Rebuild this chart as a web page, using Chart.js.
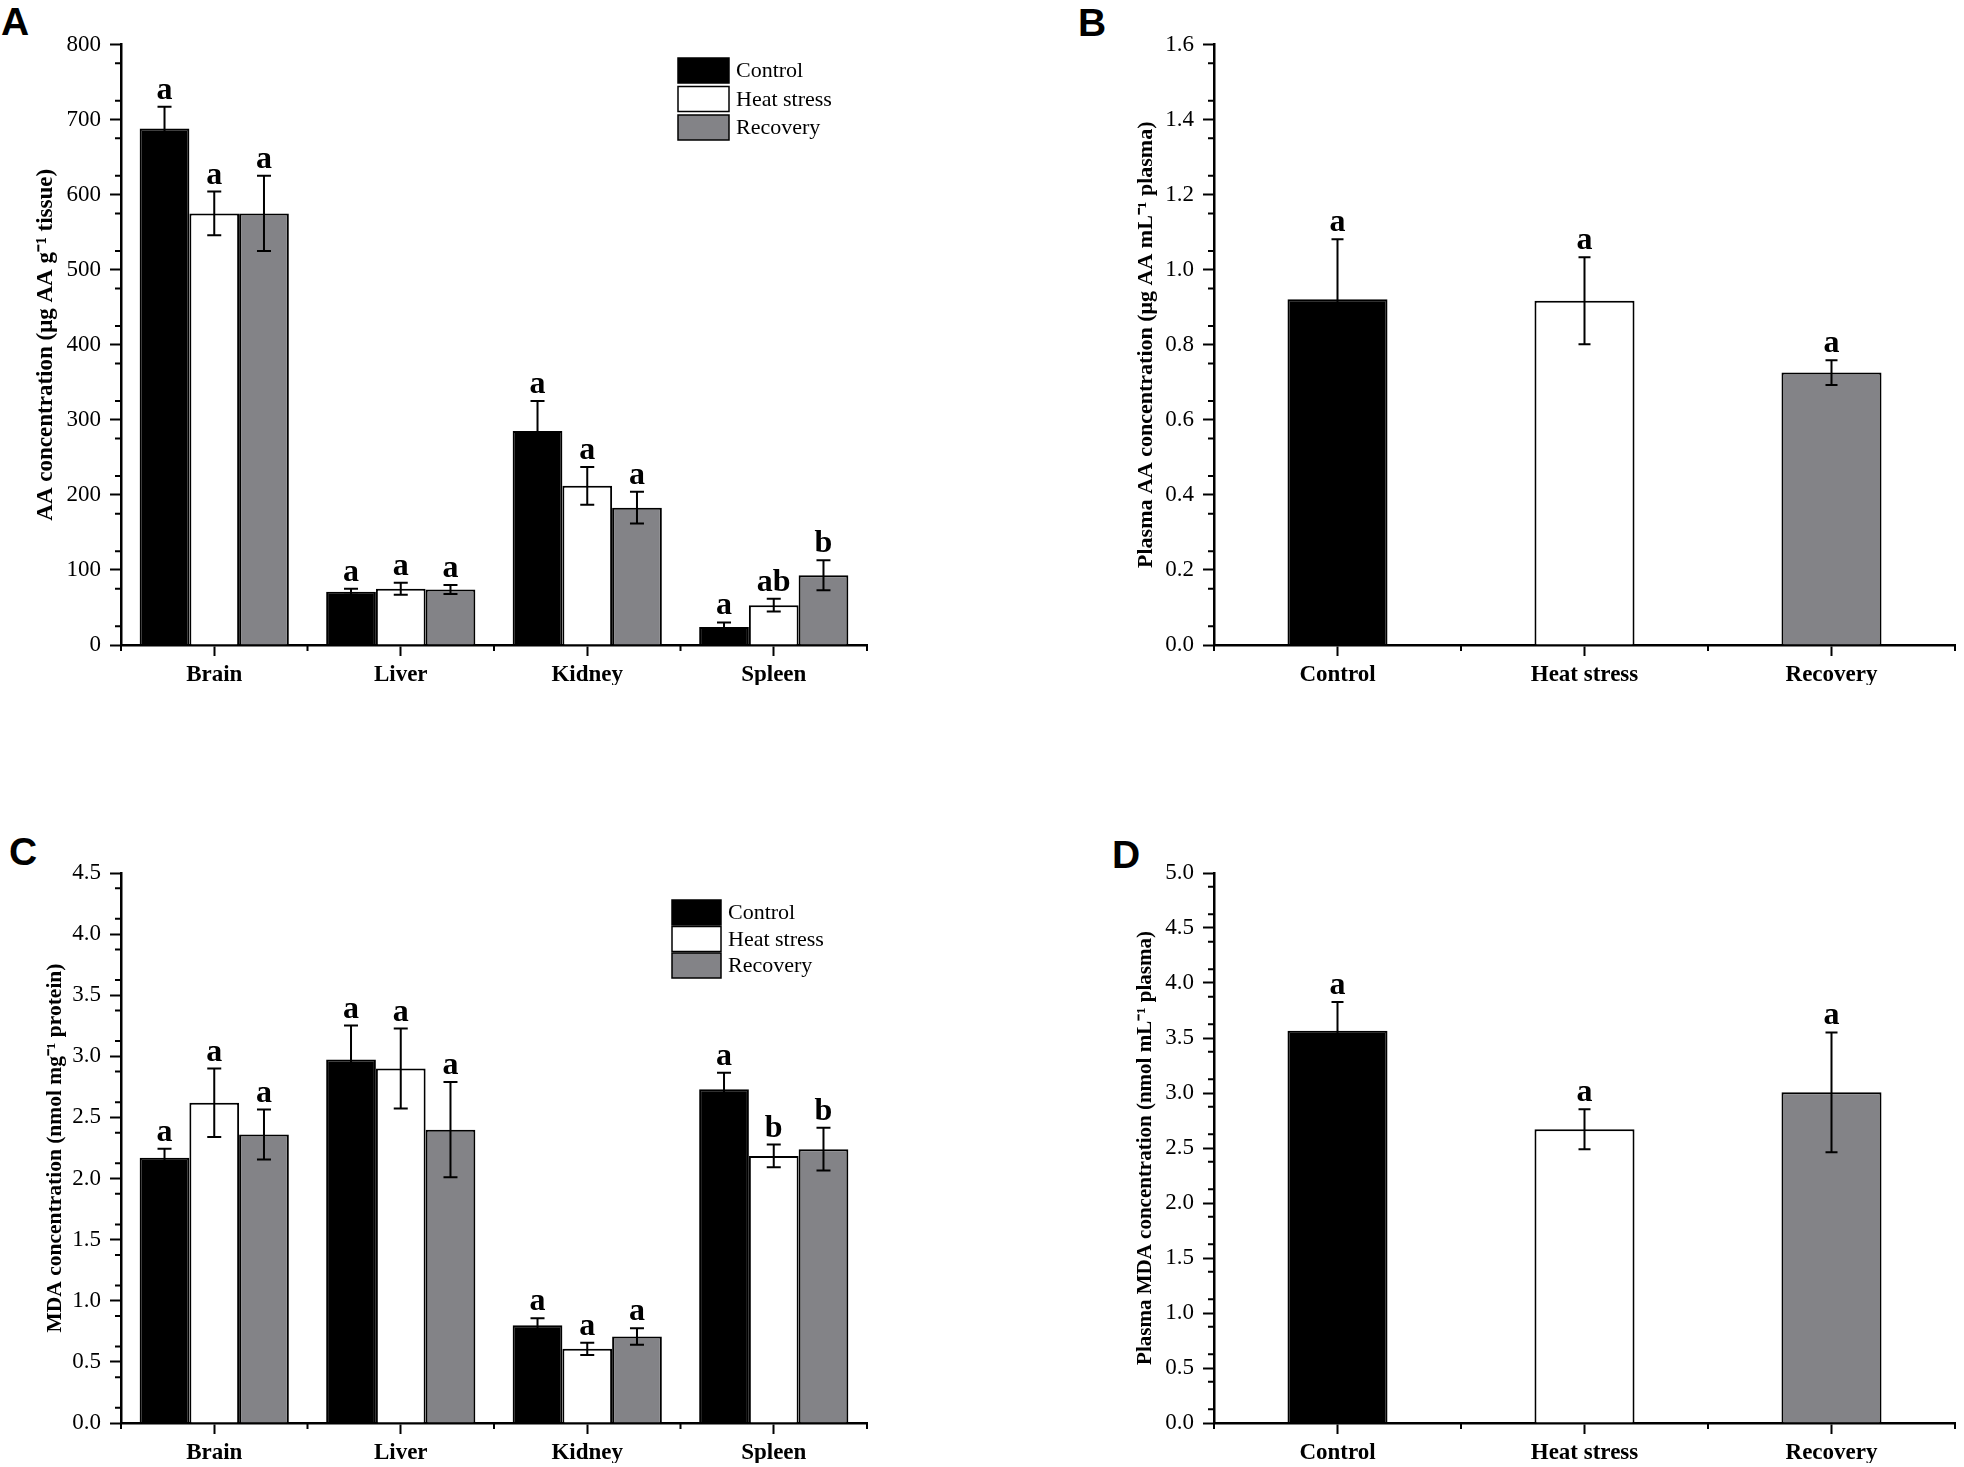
<!DOCTYPE html>
<html>
<head>
<meta charset="utf-8">
<script src="https://cdn.jsdelivr.net/npm/chart.js@4.4.0/dist/chart.umd.min.js"></script>
<style>
body { margin: 0; background: #fff; width: 1964px; height: 1467px; position: relative; overflow: hidden; }
canvas { position: absolute; }
.tag { position: absolute; font: bold 39px "Liberation Sans", Arial, sans-serif; line-height: 1; color: #000; }
</style>
</head>
<body>
<div class="tag" style="left:1px;top:2px">A</div>
<div class="tag" style="left:1078px;top:3px">B</div>
<div class="tag" style="left:9px;top:832px">C</div>
<div class="tag" style="left:1112px;top:835px">D</div>
<canvas id="chartA" width="980" height="720" style="left:0;top:0"></canvas>
<canvas id="chartB" width="984" height="720" style="left:980px;top:0"></canvas>
<canvas id="chartC" width="980" height="647" style="left:0;top:820px"></canvas>
<canvas id="chartD" width="984" height="647" style="left:980px;top:820px"></canvas>
<script>
var organs = ['Brain', 'Liver', 'Kidney', 'Spleen'];
var groups = ['Control', 'Heat stress', 'Recovery'];
var fills = ['#000000', '#ffffff', '#838387'];

// A - tissue AA (ug AA per g tissue)
var aaControl = [688, 71, 285, 24];
var aaControlSd = [29, 4, 40, 6];
var aaControlSig = ['a', 'a', 'a', 'a'];
var aaHeat = [575, 75, 212, 53];
var aaHeatSd = [29, 8, 25, 8.5];
var aaHeatSig = ['a', 'a', 'a', 'ab'];
var aaRecovery = [575, 74, 183, 93];
var aaRecoverySd = [50, 6, 21, 20];
var aaRecoverySig = ['a', 'a', 'a', 'b'];

// B - plasma AA (ug AA per mL plasma)
var plasmaAA = [0.921, 0.917, 0.726];
var plasmaAASd = [0.16, 0.116, 0.033];
var plasmaAASig = ['a', 'a', 'a'];

// C - tissue MDA (nmol per mg protein)
var mdaControl = [2.17, 2.975, 0.80, 2.73];
var mdaControlSd = [0.074, 0.277, 0.057, 0.135];
var mdaControlSig = ['a', 'a', 'a', 'a'];
var mdaHeat = [2.62, 2.90, 0.607, 2.185];
var mdaHeatSd = [0.28, 0.327, 0.05, 0.093];
var mdaHeatSig = ['a', 'a', 'a', 'b'];
var mdaRecovery = [2.36, 2.40, 0.708, 2.24];
var mdaRecoverySd = [0.205, 0.39, 0.067, 0.175];
var mdaRecoverySig = ['a', 'a', 'a', 'b'];

// D - plasma MDA (nmol per mL plasma)
var plasmaMDA = [3.565, 2.67, 3.006];
var plasmaMDASd = [0.262, 0.182, 0.545];
var plasmaMDASig = ['a', 'a', 'a'];

var serif = '"Liberation Serif", "Times New Roman", serif';

// error bars + significance letters on top
var errorBarPlugin = {
    id: 'errorBars',
    afterDatasetsDraw: function(chart, args, opts) {
        var ctx = chart.ctx, y = chart.scales.y;
        ctx.save();
        ctx.strokeStyle = '#000';
        ctx.fillStyle = '#000';
        ctx.lineWidth = 2;
        ctx.font = 'bold 32px ' + serif;
        ctx.textAlign = 'center';
        ctx.textBaseline = 'alphabetic';
        chart.data.datasets.forEach(function(ds, i) {
            chart.getDatasetMeta(i).data.forEach(function(bar, j) {
                var top = y.getPixelForValue(ds.data[j] + ds.errors[j]);
                var bot = y.getPixelForValue(ds.data[j] - ds.errors[j]);
                ctx.beginPath();
                ctx.moveTo(bar.x, top); ctx.lineTo(bar.x, bot);
                ctx.moveTo(bar.x - opts.cap, top); ctx.lineTo(bar.x + opts.cap, top);
                ctx.moveTo(bar.x - opts.cap, bot); ctx.lineTo(bar.x + opts.cap, bot);
                ctx.stroke();
                ctx.fillText(ds.letters[j], bar.x, top - 8);
            });
        });
        ctx.restore();
    }
};

// short minor ticks between the labelled ones
var minorTickPlugin = {
    id: 'minorTicks',
    afterDraw: function(chart, args, opts) {
        var ctx = chart.ctx, x = chart.scales.x, y = chart.scales.y, area = chart.chartArea;
        ctx.save();
        ctx.strokeStyle = '#000';
        ctx.lineWidth = 2;
        ctx.beginPath();
        var n = Math.round((y.max - y.min) / opts.step);
        for (var k = 0; k < n; k++) {
            var py = y.getPixelForValue(y.min + (k + 0.5) * opts.step);
            ctx.moveTo(area.left, py);
            ctx.lineTo(area.left - 6, py);
        }
        var m = chart.data.labels.length;
        for (var c = 0; c <= m; c++) {
            var px;
            if (c === 0) px = x.left;
            else if (c === m) px = x.right;
            else px = (x.getPixelForValue(c - 1) + x.getPixelForValue(c)) / 2;
            ctx.moveTo(px, area.bottom);
            ctx.lineTo(px, area.bottom + 6);
        }
        ctx.stroke();
        ctx.restore();
    }
};

// boxed legend inside the plot
var boxLegendPlugin = {
    id: 'boxLegend',
    afterDraw: function(chart, args, opts) {
        if (!opts.display) return;
        var ctx = chart.ctx;
        ctx.save();
        chart.data.datasets.forEach(function(ds, i) {
            var bx = opts.x, by = opts.y + i * opts.pitch;
            ctx.fillStyle = ds.backgroundColor;
            ctx.fillRect(bx, by, opts.w, opts.h);
            ctx.lineWidth = 1.5;
            ctx.strokeStyle = '#000';
            ctx.strokeRect(bx, by, opts.w, opts.h);
            ctx.fillStyle = '#000';
            ctx.font = '22px ' + serif;
            ctx.textAlign = 'left';
            ctx.textBaseline = 'middle';
            ctx.fillText(ds.label, bx + opts.w + 7, by + opts.h / 2 + 1);
        });
        ctx.restore();
    }
};

function groupSet(label, color, values, sd, sig) {
    return {
        label: label, data: values, errors: sd, letters: sig,
        backgroundColor: color, borderColor: '#000', borderWidth: 2,
        categoryPercentage: 0.8, barPercentage: 1
    };
}

function drawPanel(id, labels, datasets, o) {
    var axisGrid = {display: true, offset: false, drawOnChartArea: false, drawTicks: true,
                    tickLength: 11, tickWidth: 2, tickColor: '#000'};
    var axisBorder = {display: true, color: '#000', width: 2.5};
    return new Chart(document.getElementById(id), {
        type: 'bar',
        data: {labels: labels, datasets: datasets},
        options: {
            responsive: false,
            animation: false,
            layout: {padding: {left: 0, top: o.top, right: o.right, bottom: o.bottom}},
            plugins: {
                legend: {display: false},
                tooltip: {enabled: false},
                errorBars: {cap: o.cap},
                minorTicks: {step: o.step / 2},
                boxLegend: o.legend || {display: false}
            },
            scales: {
                x: {
                    grid: axisGrid,
                    border: axisBorder,
                    ticks: {color: '#000', padding: 5, maxRotation: 0,
                            font: {family: serif, size: 23, weight: 'bold'}},
                    afterFit: function(s) { s.height = 40; }
                },
                y: {
                    min: 0, max: o.max,
                    grid: axisGrid,
                    border: axisBorder,
                    ticks: {stepSize: o.step, color: '#000', padding: 9,
                            font: {family: serif, size: 23},
                            callback: function(v) { return o.decimals ? Number(v).toFixed(o.decimals) : v; }},
                    title: {display: true, text: o.title, color: '#000',
                            font: {family: serif, size: o.titleSize, weight: 'bold'},
                            padding: {top: o.titlePad, bottom: 0}},
                    afterFit: function(s) { s.width = o.axisW; }
                }
            }
        },
        plugins: [errorBarPlugin, minorTickPlugin, boxLegendPlugin]
    });
}

drawPanel('chartA', organs, [
    groupSet(groups[0], fills[0], aaControl, aaControlSd, aaControlSig),
    groupSet(groups[1], fills[1], aaHeat, aaHeatSd, aaHeatSig),
    groupSet(groups[2], fills[2], aaRecovery, aaRecoverySd, aaRecoverySig)
], {top: 44.5, right: 113, bottom: 35, axisW: 121, max: 800, step: 100, decimals: 0,
    title: 'AA concentration (\u03bcg AA g\u207b\u00b9 tissue)', titleSize: 23, titlePad: 32, cap: 7,
    legend: {display: true, x: 678, y: 58, w: 51, h: 25, pitch: 28.5}});

drawPanel('chartB', groups, [{
    label: 'Plasma AA', data: plasmaAA, errors: plasmaAASd, letters: plasmaAASig,
    backgroundColor: fills, borderColor: '#000', borderWidth: 2,
    categoryPercentage: 0.405, barPercentage: 1
}], {top: 44.5, right: 9, bottom: 35, axisW: 234, max: 1.6, step: 0.2, decimals: 1,
    title: 'Plasma AA concentration (\u03bcg AA mL\u207b\u00b9 plasma)', titleSize: 22, titlePad: 153, cap: 6});

drawPanel('chartC', organs, [
    groupSet(groups[0], fills[0], mdaControl, mdaControlSd, mdaControlSig),
    groupSet(groups[1], fills[1], mdaHeat, mdaHeatSd, mdaHeatSig),
    groupSet(groups[2], fills[2], mdaRecovery, mdaRecoverySd, mdaRecoverySig)
], {top: 53, right: 113, bottom: 4, axisW: 121, max: 4.5, step: 0.5, decimals: 1,
    title: 'MDA concentration (nmol mg\u207b\u00b9 protein)', titleSize: 21.5, titlePad: 43, cap: 7,
    legend: {display: true, x: 672, y: 80, w: 49, h: 25, pitch: 26.5}});

drawPanel('chartD', groups, [{
    label: 'Plasma MDA', data: plasmaMDA, errors: plasmaMDASd, letters: plasmaMDASig,
    backgroundColor: fills, borderColor: '#000', borderWidth: 2,
    categoryPercentage: 0.405, barPercentage: 1
}], {top: 53, right: 9, bottom: 4, axisW: 234, max: 5, step: 0.5, decimals: 1,
    title: 'Plasma MDA concentration (nmol mL\u207b\u00b9 plasma)', titleSize: 21, titlePad: 153, cap: 6});
</script>
</body>
</html>
